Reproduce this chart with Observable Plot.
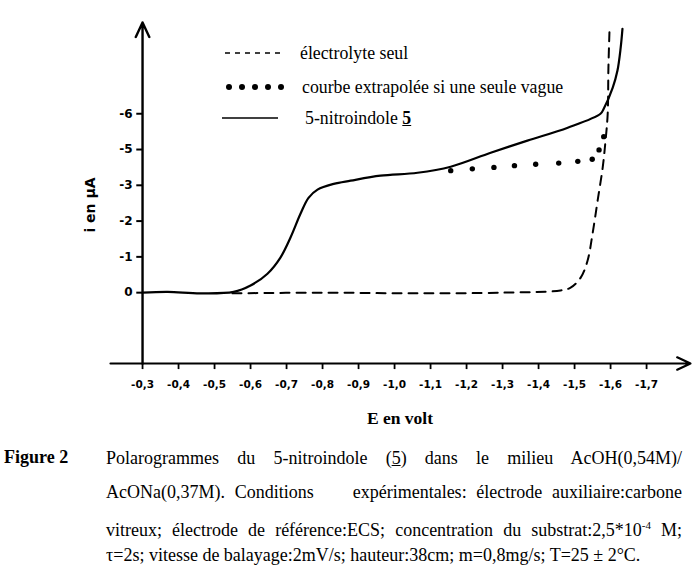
<!DOCTYPE html>
<html><head><meta charset="utf-8">
<script src="https://cdn.jsdelivr.net/npm/d3@7"></script>
<script src="https://cdn.jsdelivr.net/npm/@observablehq/plot@0.6"></script>
<style>
body{margin:0;background:#fff;}
#wrap{position:relative;width:693px;height:570px;font-family:"Liberation Serif","DejaVu Serif","Times New Roman",Times,serif;color:#000;overflow:hidden;}
#chart{position:absolute;left:0;top:0;}
.leg{position:absolute;font-size:17.8px;line-height:22px;white-space:nowrap;}
.legsample{position:absolute;}
.cap{position:absolute;left:106px;width:576px;font-size:18px;line-height:22px;white-space:nowrap;}
.just{text-align:justify;text-align-last:justify;white-space:normal;}
#fig{position:absolute;left:4px;top:446px;font-size:18px;font-weight:bold;line-height:22px;}
#xlab{position:absolute;left:300px;width:200px;top:407px;text-align:center;font-size:17.5px;font-weight:bold;line-height:22px;}
#ylab{position:absolute;left:40px;width:100px;top:194px;text-align:center;font-family:"DejaVu Sans",sans-serif;font-size:14px;font-weight:bold;line-height:22px;transform:rotate(-90deg);transform-origin:50% 50%;}
</style>
</head><body>
<div id="wrap">
  <div id="chart"></div>
  <svg class="legsample" style="left:220px;top:40px" width="70" height="90">
    <line x1="5" y1="13" x2="62" y2="13" stroke="#000" stroke-width="1.3" stroke-dasharray="5,5"/>
    <g id="legdots"></g>
    <line x1="2" y1="78" x2="58" y2="78" stroke="#000" stroke-width="1.3"/>
  </svg>
  <div class="leg" style="left:300px;top:42px">électrolyte seul</div>
  <div class="leg" style="left:302px;top:76px">courbe extrapolée si une seule vague</div>
  <div class="leg" style="left:305px;top:107px">5-nitroindole <b><u>5</u></b></div>
  <div id="xlab"></div>
  <div id="ylab"></div>
  <div id="fig">Figure 2</div>
  <div class="cap just" style="top:447px">Polarogrammes du 5-nitroindole (<u>5</u>) dans le milieu AcOH(0,54M)/</div>
  <div class="cap just" style="top:481px">AcONa(0,37M). Conditions&nbsp;&nbsp;&nbsp; expérimentales: électrode auxiliaire:carbone</div>
  <div class="cap just" style="top:514px">vitreux; électrode de référence:ECS; concentration du substrat:2,5*10<sup style="font-size:11px">-4</sup> M;</div>
  <div class="cap" style="top:544px">τ=2s; vitesse de balayage:2mV/s; hauteur:38cm; m=0,8mg/s; T=25 ± 2°C.</div>
</div>
<script>
// ---- data (E in volt, i in µA, as placed on the drawn scale) ----
const nitroE = [-0.30,-0.37,-0.46,-0.553,-0.60,-0.647,-0.683,-0.711,-0.739,-0.761,-0.786,-0.831,-0.878,-0.961,-1.064,-1.156,-1.267,-1.369,-1.481,-1.572,-1.581,-1.606,-1.619,-1.628,-1.633];
const nitroI = [0,-0.02,0.02,-0.02,-0.2,-0.53,-0.98,-1.54,-2.21,-2.65,-2.88,-3.04,-3.13,-3.27,-3.35,-3.52,-3.91,-4.25,-4.61,-5.0,-5.14,-5.73,-6.2,-6.84,-7.37];
const electroE = [-0.55,-0.80,-1.05,-1.30,-1.461,-1.489,-1.517,-1.536,-1.550,-1.564,-1.578,-1.586,-1.592,-1.594,-1.597];
const electroI = [0.02,0.0,0.02,0.0,-0.06,-0.14,-0.42,-0.89,-1.65,-2.57,-3.49,-4.25,-5.0,-6.28,-7.32];
const extraE = [-1.156,-1.216,-1.276,-1.333,-1.392,-1.456,-1.509,-1.549,-1.568,-1.581];
const extraI = [-3.41,-3.46,-3.50,-3.55,-3.59,-3.62,-3.67,-3.73,-3.99,-4.36];
const xTicks = [-0.3,-0.4,-0.5,-0.6,-0.7,-0.8,-0.9,-1.0,-1.1,-1.2,-1.3,-1.4,-1.5,-1.6,-1.7];
const xTickLabels = ["-0,3","-0,4","-0,5","-0,6","-0,7","-0,8","-0,9","-1,0","-1,1","-1,2","-1,3","-1,4","-1,5","-1,6","-1,7"];
const yTicks = [0,-1,-2,-3,-4,-5];
const yTickLabels = ["0","-1","-2","-3","-5","-6"];
const xLabel = "E en volt";
const yLabel = "i en µA";
const X0 = -0.3;                 // where the i axis crosses
const xDomain = [-0.211, -1.822];
const yDomain = [1.98, -7.55];

document.getElementById("xlab").textContent = xLabel;
document.getElementById("ylab").textContent = yLabel;

const nitro = nitroE.map((e,i)=>({e, i:nitroI[i]}));
const electro = electroE.map((e,i)=>({e, i:electroI[i]}));
const extra = extraE.map((e,i)=>({e, i:extraI[i]}));

const hand = {fontFamily:"DejaVu Sans", fontWeight:"bold"};

const chart = Plot.plot({
  width:693, height:430,
  marginLeft:110, marginRight:3, marginTop:22, marginBottom:67,
  style:{background:"transparent", overflow:"visible"},
  x:{domain:xDomain, axis:null},
  y:{domain:yDomain, axis:null},
  marks:[
    Plot.line(electro,{x:"e", y:"i", curve:"catmull-rom", stroke:"#000", strokeWidth:2, strokeDasharray:"9,7"}),
    Plot.line(nitro,{x:"e", y:"i", curve:"catmull-rom", stroke:"#000", strokeWidth:2.2}),
    Plot.dot(extra,{x:"e", y:"i", r:2.7, fill:"#000", stroke:null}),
    // axes
    Plot.arrow([0],{x1:()=>X0, y1:()=>yDomain[0], x2:()=>X0, y2:()=>yDomain[1], stroke:"#000", strokeWidth:2.4, headLength:10, headAngle:50}),
    Plot.arrow([0],{x1:()=>xDomain[0], y1:()=>yDomain[0], x2:()=>xDomain[1], y2:()=>yDomain[0], stroke:"#000", strokeWidth:2.2, headLength:10, headAngle:50}),
    Plot.ruleY(yTicks,{y:d=>d, x1:()=>X0+0.016, x2:()=>X0, stroke:"#000", strokeWidth:2}),
    Plot.text(yTicks,{x:()=>X0, y:d=>d, text:(d,i)=>yTickLabels[i], dx:-10, textAnchor:"end", ...hand, fontSize:12}),
    Plot.ruleX(xTicks,{x:d=>d, y1:()=>yDomain[0], y2:()=>yDomain[0]+0.17, stroke:"#000", strokeWidth:1.8}),
    Plot.text(xTicks,{x:d=>d, y:()=>yDomain[0], text:(d,i)=>xTickLabels[i], dy:21, ...hand, fontSize:10.5})
  ]
});
document.getElementById("chart").appendChild(chart);

// legend dots
const g = document.getElementById("legdots");
[0,1,2,3,4].forEach(k=>{
  const c = document.createElementNS("http://www.w3.org/2000/svg","circle");
  c.setAttribute("cx", 9 + k*13); c.setAttribute("cy", 47); c.setAttribute("r", 3);
  c.setAttribute("fill","#000"); g.appendChild(c);
});
</script>
</body></html>
